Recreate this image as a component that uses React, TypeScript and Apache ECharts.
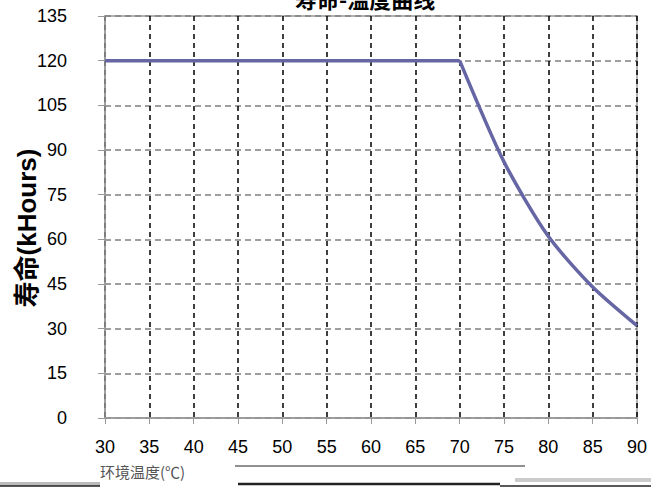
import React, { useEffect, useRef } from "react";
import * as echarts from "echarts";

const temperatures = ["30", "35", "40", "45", "50", "55", "60", "65", "70", "75", "80", "85", "90"];
const flatLife = [120, 120, 120, 120, 120, 120, 120, 120, 120, null, null, null, null];
const decayLife = [null, null, null, null, null, null, null, null, 120, 86, 61, 44, 31];
const yTicks = { min: 0, max: 135, interval: 15 };
const yAxisTitle = "寿命(kHours)";
const xAxisTitle = "环境温度(℃)";
const chartTitle = "寿命-温度曲线";

export default function App() {
  const ref = useRef<HTMLDivElement>(null);
  useEffect(() => {
    const chart = echarts.init(ref.current!, null, { renderer: "svg" });
    const lineStyle = { color: "#6666a4", width: 3.5 };
    chart.setOption({
      animation: false,
      backgroundColor: "#ffffff",
      title: {
        text: chartTitle,
        left: 290,
        top: -18,
        textStyle: { fontSize: 22, fontWeight: "bold", color: "#000", fontFamily: "Noto Sans CJK SC" },
      },
      grid: {
        left: 105, right: 14, top: 16, bottom: 81,
        outerBoundsMode: "none",
        containLabel: false,
        show: true, borderColor: "#999", borderWidth: 1.5,
      },
      xAxis: {
        type: "category",
        data: temperatures,
        boundaryGap: false,
        axisLine: { show: true, lineStyle: { color: "#999", width: 1.5 } },
        axisTick: { show: true, length: 6, lineStyle: { color: "#999" } },
        axisLabel: { fontSize: 18, color: "#000", fontFamily: "Liberation Sans Narrow, Liberation Sans", margin: 20 },
        splitLine: { show: true, lineStyle: { color: "#000", type: [5, 4], width: 1.5 } },
      },
      yAxis: {
        type: "value",
        min: yTicks.min,
        max: yTicks.max,
        interval: yTicks.interval,
        axisLine: { show: true, lineStyle: { color: "#999", width: 1.5 } },
        axisTick: { show: true, length: 7, lineStyle: { color: "#999" } },
        axisLabel: { fontSize: 18, color: "#000", fontFamily: "Liberation Sans Narrow, Liberation Sans", margin: 38 },
        splitLine: { show: true, lineStyle: { color: "#808080", type: [6, 4], width: 1.5 } },
      },
      graphic: [
        {
          type: "text", x: 27, y: 228, rotation: Math.PI / 2,
          style: {
            text: yAxisTitle, fontSize: 26, fontWeight: "bold", fill: "#000",
            fontFamily: "Liberation Sans, Noto Sans CJK SC", align: "center", verticalAlign: "middle",
          },
        },
        { type: "text", left: 100, top: 464, style: { text: xAxisTitle, fontSize: 15, fill: "#555", fontFamily: "Noto Sans CJK SC" } },
        { type: "line", shape: { x1: 0, y1: 484, x2: 100, y2: 484 }, style: { stroke: "#bbb", lineWidth: 4 } },
        { type: "line", shape: { x1: 0, y1: 486, x2: 100, y2: 486 }, style: { stroke: "#222", lineWidth: 1.5 } },
        { type: "line", shape: { x1: 235, y1: 466, x2: 525, y2: 466 }, style: { stroke: "#222", lineWidth: 1 } },
        { type: "line", shape: { x1: 238, y1: 484, x2: 500, y2: 484 }, style: { stroke: "#222", lineWidth: 2.5 } },
        { type: "line", shape: { x1: 500, y1: 486, x2: 651, y2: 486 }, style: { stroke: "#222", lineWidth: 1.5 } },
        { type: "line", shape: { x1: 515, y1: 480, x2: 651, y2: 480 }, style: { stroke: "#ccc", lineWidth: 4 } },
      ],
      series: [
        { type: "line", data: flatLife, symbol: "none", lineStyle },
        { type: "line", data: decayLife, smooth: 0.25, symbol: "none", lineStyle },
      ],
    });
    return () => chart.dispose();
  }, []);
  return <div ref={ref} style={{ width: 651, height: 499, position: "absolute", left: 0, top: 0 }} />;
}
